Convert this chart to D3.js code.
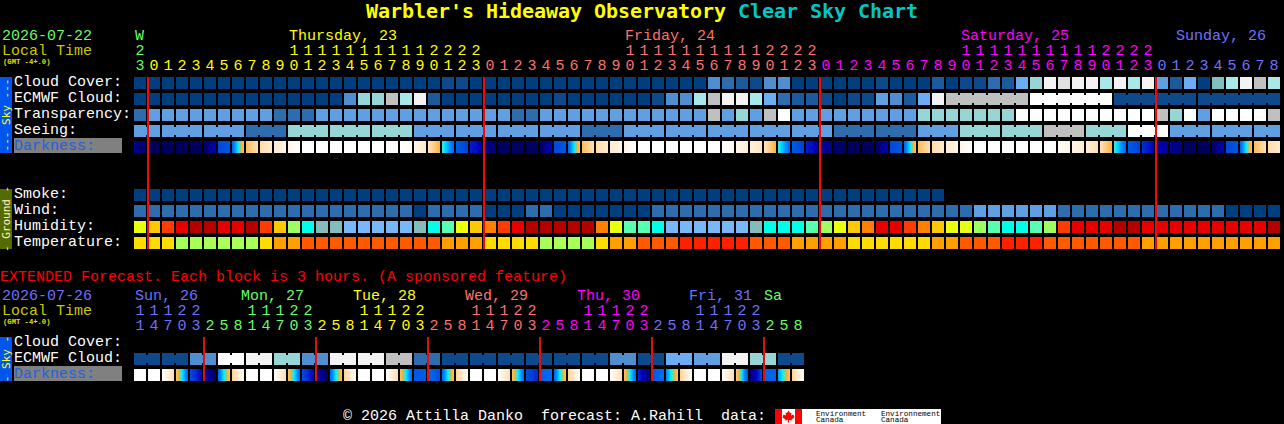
<!DOCTYPE html>
<html><head><meta charset="utf-8">
<script src="https://cdnjs.cloudflare.com/ajax/libs/d3/7.8.5/d3.min.js"></script>
<style>
html,body{margin:0;padding:0;background:#000;overflow:hidden}
svg{display:block}
text{font-family:"Liberation Mono",monospace;white-space:pre}
</style></head><body><div id="c"></div>
<script>
// ---------- data ----------
const cloudCover=[0,0,0,0,0,0,0,0,0,0, 0,0,0,0,0,0,0,0,0,0, 0,0,1,1,0,0,0,0,0,0, 0,0,0,0,0,0,0,0,0,0,
 0,4,3,2,1,4,4,0,0,0, 0,0,0,1,0,0,0,2,0,1, 1,3,2,6,8,12,11,12,12,9, 12,9,12,5,2,6,0,7,9,12, 10,9];
const ecmwfCloud=[0,0,0,0,0,0,0,0,0,0, 0,0,0,0,0,4,8,8,10,9, 12,2,0,0,0,0,0,0,0,0, 1,0,0,0,0,0,0,1,4,4,
 9,10,12,12,9,6,3,2,2,1, 0,1,1,5,4,2,6,12,10,10, 10,10,10,10,13,13,13,13,13,13, 1,1,1,1,1,1,1,1,1,1, 1,1];
const transparency=[3,5,5,5,5,5,5,5,5,5, 3,3,3,5,5,5,5,5,5,5, 5,5,5,5,5,5,5,3,3,5, 5,5,5,5,5,5,5,5,5,5,
 5,10,5,8,5,10,13,5,5,5, 5,5,5,5,5,5,8,8,8,8, 8,8,8,13,13,13,13,13,13,13, 13,13,13,10,8,13,5,13,13,13, 13,10];
const seeing=[5,5,5,5,5,5,5,5,3,3, 3,8,8,8,8,8,8,8,8,8, 5,5,5,5,5,5,5,5,5,5, 5,5,3,3,3,5,5,5,5,5,
 5,5,5,5,5,5,5,5,5,5, 3,3,3,3,3,3,5,5,5,8, 8,8,8,8,8,10,10,10,8,8, 8,13,13,13,5,5,5,5,5,5, 5,5];
const darkStart=[1.2,.3,.3,.3,.3,.4,2.9,3.4,6.4,7.4, 8.2,9,10,10,10,10,10,10,10,10, 9,7.8,5.3,3.2,2.4,1.2,.4,.4,.4,.4,
 2.9,3.4,6.4,7.4,8.2,9,10,10,10,10, 10,10,10,9.2,8.5,7.8,5.3,3.2,2.4,1.6, .8,.3,.3,.4,2.9,3.4,6.4,7.4,8.2,9,
 10,10,10,10,10,10,9.7,9,8.4,7.7, 5.3,3.2,2.6,1.9,1.3,.4,.3,.4,2.9,3.4, 6.4,7.4];
const darkEnd=[.6,.3,.3,.3,.3,2,3.1,6.5,7.5,8.2, 9,10,10,10,10,10,10,10,10,9.6, 8,6,3.5,2.8,1.8,.7,.4,.4,.4,2,
 3.1,6.5,7.5,8.2,9,10,10,10,10,10, 10,10,9.3,8.4,7.8,6,3.5,2.8,1.8,1, .4,.3,.3,2,3.1,6.5,7.5,8.2,9,10,
 10,10,10,10,10,9.7,9,8.3,7.6,6, 3.5,2.8,2,1.5,.9,.4,.3,2,3.1,6.5, 7.5,8.2];
const smoke=[0,0,0,0,0,0,0,0,0,0, 0,0,0,0,0,0,0,0,0,0, 0,0,0,0,0,0,0,0,0,0, 0,0,0,0,0,0,0,0,0,0, 0,0,0,0,0,0,0,0,0,0, 0,0,0,0,0,0,0,0];
const wind=[3,3,3,3,3,3,3,3,3,3, 3,3,3,3,3,3,3,3,3,3, 0,3,3,3,3,0,0,0,3,3, 0,0,0,0,0,0,0,3,3,3,
 3,3,3,3,3,3,3,3,3,3, 3,3,3,3,3,3,3,3,3,3, 5,5,5,5,5,5,3,3,3,3, 3,3,3,3,3,3,3,3,0,0, 0,0];
const humidity=[5,6,8,9,10,10,9,9,10,8, 6,4,2,1,1,0,0,0,0,0, 1,2,3,5,6,7,8,9,10,10, 10,10,10,7,5,3,3,2,0,0,
 0,0,0,0,1,2,2,2,3,4, 5,6,7,9,9,8,7,6,5,5, 4,3,2,2,3,4,8,9,9,9, 10,10,9,9,9,9,9,9,9,9, 9,10];
const temperature=[1,1,1,0,0,0,0,0,0,1, 2,2,3,3,3,3,3,3,3,3, 3,3,2,2,2,1,1,1,1,0, 0,0,0,1,2,2,3,3,3,4,
 4,4,4,4,3,3,3,2,2,2, 2,1,1,1,1,1,1,2,2,3, 3,3,4,4,4,3,3,3,3,3, 3,3,2,2,2,2,2,2,2,2, 2,2];
const extEcmwf=[1,1,1,1,4,4,13,13,12,12, 8,8,4,4,12,12,12,12,10,10, 3,3,1,1,1,1,1,1,1,1, 1,1,1,1,4,4,1,1,6,6, 5,5,12,12,8,8,1,1];
const extDarkStart=[10,10,9.5,6.5,3,2,3.5,7, 10,10,9.5,6.5,3,2,3.5,7, 10,10,9.5,6.5,3.2,3.5,3.5,7, 10,10,9.5,6.5,3,3.3,3.5,7, 10,10,9.5,6.5,2.5,3.2,4,7, 10,10,9.5,6.8,.8,3.4,4.2,7];
const extDarkEnd=[10,10,7.5,3.5,2,.3,6.5,9.5, 10,10,7.5,3.5,2,.3,6.5,9.5, 10,10,7.5,3.5,3.2,3,6.5,9.5, 10,10,7.5,3.5,2.5,3.6,6.5,9.5, 10,10,7.5,3.5,.8,3.6,6.5,9.5, 10,10,7.5,3,3,3.4,6.5,9.5];

const hourTens="2          111111111122220000000000111111111122220000000000111111111122220000000000".split("");
const hourUnits="3012345678901234567890123012345678901234567890123012345678901234567890123012345678".split("");
const extTens="11122   11122   11122   11122   11122   11122      ".split("");
const extUnits="147032581470325814703258147032581470325814703258".split("");
const mainDays=["W","Thursday, 23","Friday, 24","Saturday, 25","Sunday, 26"];
const extDays=["Sun, 26","Mon, 27","Tue, 28","Wed, 29","Thu, 30","Fri, 31","Sa"];
const mainLabels=["Cloud Cover:","ECMWF Cloud:","Transparency:","Seeing:","Darkness:"];
const groundLabels=["Smoke:","Wind:","Humidity:","Temperature:"];
const extLabels=["Cloud Cover:","ECMWF Cloud:","Darkness:"];

// ---------- palettes ----------
const skyColors=["#003f7f","#0e4a8b","#1c5a9e","#2d6dad","#4f8fcf","#5f9fe2","#6cacf2","#80c0c0","#96d6d6","#a8e8e8","#c0c0c0","#e0e0e0","#f3f3f3","#ffffff"];
const humidColors=["#78b8f8","#84bcbc","#00ffe8","#58ffb0","#a0ff60","#e8ff10","#ffc800","#ff8000","#ff3c00","#e80000","#b40000"];
const tempColors=["#a8ff58","#ffdc00","#ffa000","#ff5a00","#ff2000"];
const dayColors=["#66ff66","#ffff00","#ff7070","#ff00ff","#7070ff"];
const extDayColors=["#7070ff","#66ff66","#ffff00","#ff7070","#ff00ff","#7070ff","#66ff66"];

const sky=d3.scaleOrdinal(d3.range(skyColors.length),skyColors);
const hum=d3.scaleOrdinal(d3.range(humidColors.length),humidColors);
const tmp=d3.scaleOrdinal(d3.range(tempColors.length),tempColors);
const dark=d3.scaleLinear()
 .domain([0,1,2,3,4,5,6,7,8,9,10])
 .range(["#00004a","#000080","#0000c0","#0050e0","#0080ff","#00f0ff","#ffb030","#ffd090","#ffe8c8","#fff6e8","#ffffff"]);

// ---------- scales ----------
const W=1284,H=424;
const svg=d3.select("#c").append("svg").attr("width",W).attr("height",H).style("background","#000");
const defs=svg.append("defs");
const xMain=d3.scaleBand().domain(d3.range(cloudCover.length)).range([134,1280]).paddingInner(2/14).paddingOuter(0);
const xExt=d3.scaleBand().domain(d3.range(extEcmwf.length)).range([134,804]).paddingInner(2/14).paddingOuter(0);
const ySky=d3.scaleBand().domain(mainLabels).range([77,153]).paddingInner(4/16).paddingOuter(0);
const yGround=d3.scaleBand().domain(groundLabels).range([189,249]).paddingInner(4/16).paddingOuter(0);
const yExt=d3.scaleBand().domain(extLabels).range([337,381]).paddingInner(4/16).paddingOuter(0);

function cells(x,y,vals,color,group){
  const g=svg.append("g").attr("shape-rendering","crispEdges");
  g.selectAll("rect.c").data(vals).join("rect").attr("class","c")
    .attr("x",(d,i)=>x(i)).attr("y",y).attr("width",x.bandwidth()).attr("height",12).attr("fill",d=>color(d));
  if(group){
    const bridges=d3.range(vals.length-1).filter(i=>group(i)!==null&&group(i)===group(i+1));
    g.selectAll("rect.b").data(bridges).join("rect").attr("class","b")
      .attr("x",i=>x(i)+x.bandwidth()).attr("y",y+2).attr("width",x.step()-x.bandwidth()).attr("height",8)
      .attr("fill",i=>color(vals[i]));
  }
}
let gid=0;
function darkCells(x,y,st,en){
  const g=svg.append("g").attr("shape-rendering","crispEdges");
  st.forEach((s,i)=>{
    const id="dk"+(gid++), e=en[i];
    const lg=defs.append("linearGradient").attr("id",id);
    d3.range(0,9).forEach(t=>lg.append("stop").attr("offset",(t/8*100)+"%").attr("stop-color",dark(s+(e-s)*t/8)));
    g.append("rect").attr("x",x(i)).attr("y",y).attr("width",x.bandwidth()).attr("height",12).attr("fill",`url(#${id})`);
  });
}
function txt(s,x,y,col,size){
  return svg.append("text").attr("x",x).attr("y",y).attr("fill",col).attr("font-size",size).text(s);
}
function hourAxis(x,labels,yPos,colorOf){
  const vals=x.domain().filter(i=>labels[i]&&labels[i]!==" ");
  const ax=d3.axisTop(x).tickValues(vals).tickSize(0).tickPadding(0).offset(0).tickFormat(i=>labels[i]);
  const g=svg.append("g").attr("transform",`translate(0,${yPos})`).call(ax);
  g.select(".domain").remove();
  g.attr("font-family",null).attr("font-size",null);
  g.selectAll("text").attr("font-size",15).attr("fill",colorOf).attr("dy",0).style("font-family",'"Liberation Mono",monospace');
}

// ---------- title ----------
const title=svg.append("text").attr("x",366).attr("y",18).attr("font-size",20).attr("font-weight","bold")
  .style("font-family",'"DejaVu Sans Mono",monospace').attr("textLength",552);
title.append("tspan").attr("fill","#ffff00").text("Warbler's Hideaway Observatory ");
title.append("tspan").attr("fill","#00c8c8").text("Clear Sky Chart");

// ---------- main header ----------
const mainCol=i=>i<1?0:i<25?1:i<49?2:i<73?3:4;
txt("2026-07-22",2,40,dayColors[0],15);
txt("Local Time",2,55,"#c8c800",15);
txt("(GMT -4+.0)",3,64,"#e0e000",7.2).attr("font-weight","bold");
txt(mainDays[0],135,40,dayColors[0],15);
[[11,1],[35,2],[59,3]].forEach(([k,d])=>txt(mainDays[d],xMain(k)+1,40,dayColors[d],15));
txt(mainDays[4],xMain(74)+6,40,dayColors[4],15);
hourAxis(xMain,hourTens.map((c,i)=>c==="0"?"":c),55,i=>dayColors[mainCol(i)]);
hourAxis(xMain,hourUnits,70,i=>dayColors[mainCol(i)]);

// ---------- side bars ----------
function sideBar(y0,y1,col,s,tc){
  svg.append("rect").attr("x",0).attr("y",y0).attr("width",12).attr("height",y1-y0).attr("fill",col).attr("shape-rendering","crispEdges");
  const c=(y0+y1)/2;
  svg.append("text").attr("transform",`translate(9.5,${c}) rotate(-90)`).attr("text-anchor","middle")
   .attr("fill",tc).attr("font-size",11).style("font-family",'"DejaVu Sans Mono",monospace').text(s);
}
sideBar(77,153,"#0055ee","--- Sky ---","#ffff20");
sideBar(189,249,"#556b00","- Ground -","#f8f8c8");
sideBar(337,381,"#0055ee","- Sky -","#ffff20");

// ---------- row labels ----------
function rowLabels(list,yScale){
  list.forEach(l=>{
    const y=yScale(l);
    if(l==="Darkness:"){
      svg.append("rect").attr("x",14).attr("y",y-3).attr("width",108).attr("height",15).attr("fill","#808080").attr("shape-rendering","crispEdges");
      txt(l,14,y+9,"#2060e0",15);
    } else txt(l,14,y+9,"#ffffff",15);
  });
}
rowLabels(mainLabels,ySky);
rowLabels(groundLabels,yGround);
rowLabels(extLabels,yExt);

// ---------- sky rows ----------
cells(xMain,ySky("Cloud Cover:"),cloudCover,sky);
cells(xMain,ySky("ECMWF Cloud:"),ecmwfCloud,sky,i=>i>=58?Math.floor((i-58)/6):null);
cells(xMain,ySky("Transparency:"),transparency,sky);
cells(xMain,ySky("Seeing:"),seeing,sky,i=>Math.floor((i+1)/3));
darkCells(xMain,ySky("Darkness:"),darkStart,darkEnd);

// ---------- ground rows ----------
cells(xMain,yGround("Smoke:"),smoke,sky);
cells(xMain,yGround("Wind:"),wind,sky);
cells(xMain,yGround("Humidity:"),humidity,hum);
cells(xMain,yGround("Temperature:"),temperature,tmp);

// ---------- red midnight lines ----------
svg.append("g").attr("shape-rendering","crispEdges").selectAll("rect").data([1,25,49,73]).join("rect")
  .attr("x",k=>xMain(k)-1).attr("y",77).attr("width",2).attr("height",172).attr("fill","#f00a0a");

// ---------- extended forecast ----------
txt("EXTENDED Forecast. Each block is 3 hours. (A sponsored feature)",0,281,"#ff0000",15);
txt("2026-07-26",2,300,"#7070ff",15);
txt("Local Time",2,315,"#c8c800",15);
txt("(GMT -4+.0)",3,324,"#e0e000",7.2).attr("font-weight","bold");
const extCol=i=>Math.floor((i+3)/8);
extDays.forEach((d,i)=>{
  const x= i===0 ? xExt(0)+1 : i===6 ? xExt(45) : xExt(8*i)-5;
  txt(d,x,300,extDayColors[i],15);
});
hourAxis(xExt,extTens,315,i=>extDayColors[extCol(i)]);
hourAxis(xExt,extUnits,330,i=>extDayColors[extCol(i)]);
cells(xExt,yExt("ECMWF Cloud:"),extEcmwf,sky,i=>Math.floor(i/2));
darkCells(xExt,yExt("Darkness:"),extDarkStart,extDarkEnd);
svg.append("g").attr("shape-rendering","crispEdges").selectAll("rect").data([5,13,21,29,37,45]).join("rect")
  .attr("x",k=>xExt(k)-1).attr("y",337).attr("width",2).attr("height",44).attr("fill","#e01010");

// ---------- footer ----------
txt("\u00a9 2026 Attilla Danko  forecast: A.Rahill  data:",343,419.5,"#ffffff",15);
const logo=svg.append("g");
logo.append("rect").attr("x",775).attr("y",409).attr("width",166).attr("height",15).attr("fill","#fff").attr("shape-rendering","crispEdges");
logo.append("rect").attr("x",775).attr("y",409).attr("width",7).attr("height",15).attr("fill","#f00").attr("shape-rendering","crispEdges");
logo.append("rect").attr("x",795).attr("y",409).attr("width",7).attr("height",15).attr("fill","#f00").attr("shape-rendering","crispEdges");
logo.append("path").attr("fill","#f00").attr("transform","translate(788.5,416.5)")
  .attr("d","M0,-6 L1.5,-3.5 L3,-4 L2.5,-1 L5,-2 L5.5,-0.5 L6,1 L3,3 L3.5,4 L0.5,3.5 L0.5,6 L-0.5,6 L-0.5,3.5 L-3.5,4 L-3,3 L-6,1 L-5.5,-0.5 L-5,-2 L-2.5,-1 L-3,-4 L-1.5,-3.5 Z");
[["Environment",816],["Environnement",881]].forEach(([s,x])=>{
  txt(s,x,415.5,"#000",7.6);
  txt("Canada",x,422,"#000",7.6);
});
</script></body></html>
